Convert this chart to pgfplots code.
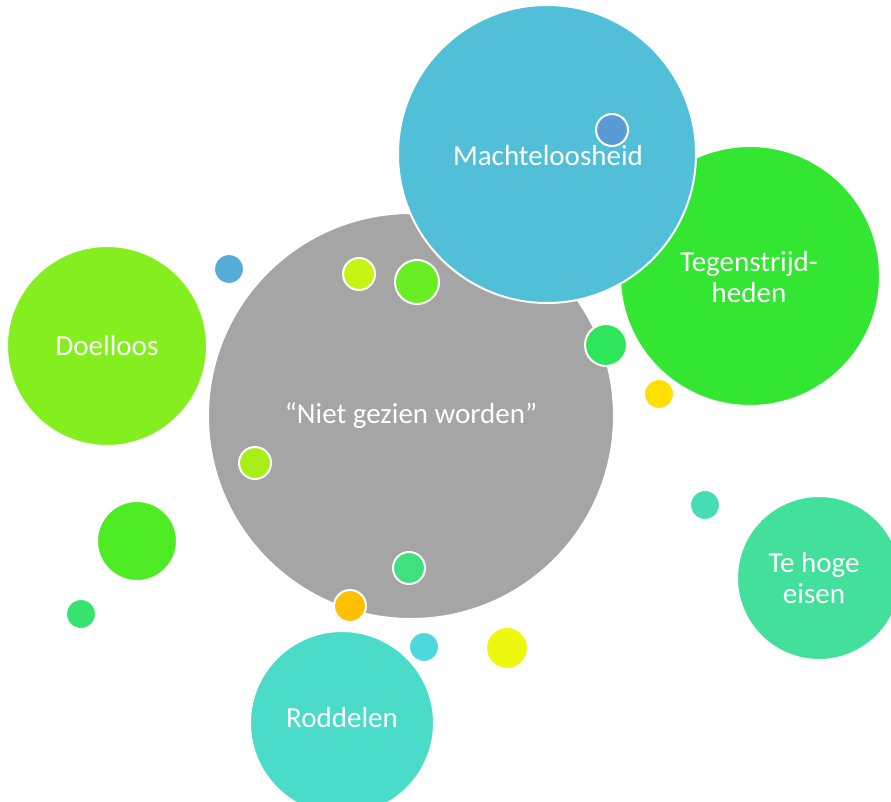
\documentclass[border=0pt]{standalone}
\usepackage{fontspec}
\setmainfont{Carlito}
\usepackage{pgfplots}
\pgfplotsset{compat=1.18}
\definecolor{cGrey}{HTML}{A5A5A5}
\definecolor{cMacht}{HTML}{52BFD9}
\definecolor{cTegen}{HTML}{32E632}
\definecolor{cDoel}{HTML}{84EE1E}
\definecolor{cEisen}{HTML}{42E09A}
\definecolor{cRod}{HTML}{4ADCC8}
\definecolor{cS1}{HTML}{5B9BD5}
\definecolor{cS2}{HTML}{2EE65A}
\definecolor{cS3}{HTML}{FFE000}
\definecolor{cS4}{HTML}{55AED8}
\definecolor{cS5}{HTML}{C6F514}
\definecolor{cS6}{HTML}{68EE22}
\definecolor{cS7}{HTML}{AAEE18}
\definecolor{cS8}{HTML}{3EE080}
\definecolor{cS9}{HTML}{FFC000}
\definecolor{cS10}{HTML}{4CD8DC}
\definecolor{cS11}{HTML}{EEF80E}
\definecolor{cS12}{HTML}{4CEB24}
\definecolor{cS13}{HTML}{34E46C}
\definecolor{cS14}{HTML}{44DDB4}
\pgfplotsset{
  bub/.style n args={2}{only marks, mark=*, mark size=#1pt,
    mark options={draw=white, line width=2pt, fill=#2}},
}
\begin{document}
\begin{tikzpicture}
\begin{axis}[width=891pt, height=802pt, scale only axis,
  xmin=0, xmax=891, ymin=0, ymax=802, y dir=reverse,
  hide axis, clip=true, clip marker paths=true,
  at={(0,0)}, anchor=south west]
% large bubbles
\addplot[bub={100}{cDoel}] coordinates {(107,346)};
\addplot[bub={130}{cTegen}] coordinates {(750,276)};
\addplot[bub={203}{cGrey}] coordinates {(411,416)};
\addplot[bub={149}{cMacht}] coordinates {(547,154)};
\addplot[bub={82}{cEisen}] coordinates {(819,578)};
\addplot[bub={92}{cRod}] coordinates {(342,723)};
% small bubbles
\addplot[bub={16}{cS1}] coordinates {(612,130)};
\addplot[bub={21}{cS2}] coordinates {(606,345)};
\addplot[bub={15}{cS3}] coordinates {(659,394)};
\addplot[bub={15}{cS4}] coordinates {(229,269)};
\addplot[bub={16}{cS5}] coordinates {(359,274)};
\addplot[bub={22}{cS6}] coordinates {(417,282)};
\addplot[bub={16}{cS7}] coordinates {(255,463)};
\addplot[bub={16}{cS8}] coordinates {(409,568)};
\addplot[bub={16}{cS9}] coordinates {(350,606)};
\addplot[bub={15}{cS10}] coordinates {(424,647)};
\addplot[bub={21}{cS11}] coordinates {(507,648)};
\addplot[bub={40}{cS12}] coordinates {(137,541)};
\addplot[bub={15}{cS13}] coordinates {(81,614)};
\addplot[bub={15}{cS14}] coordinates {(705,505)};
% labels
\begin{scope}[every node/.style={text=white, font=\fontsize{29}{31}\selectfont, align=center}]
\node at (axis cs:411,416) {“Niet gezien worden”};
\node at (axis cs:548,156) {Machteloosheid};
\node at (axis cs:749,277) {Tegenstrijd-\\heden};
\node at (axis cs:107,346) {Doelloos};
\node at (axis cs:814,578) {Te hoge\\eisen};
\node at (axis cs:342,718) {Roddelen};
\end{scope}
\end{axis}
\pgfresetboundingbox
\useasboundingbox (0,0) rectangle (891pt,802pt);
\end{tikzpicture}
\end{document}
